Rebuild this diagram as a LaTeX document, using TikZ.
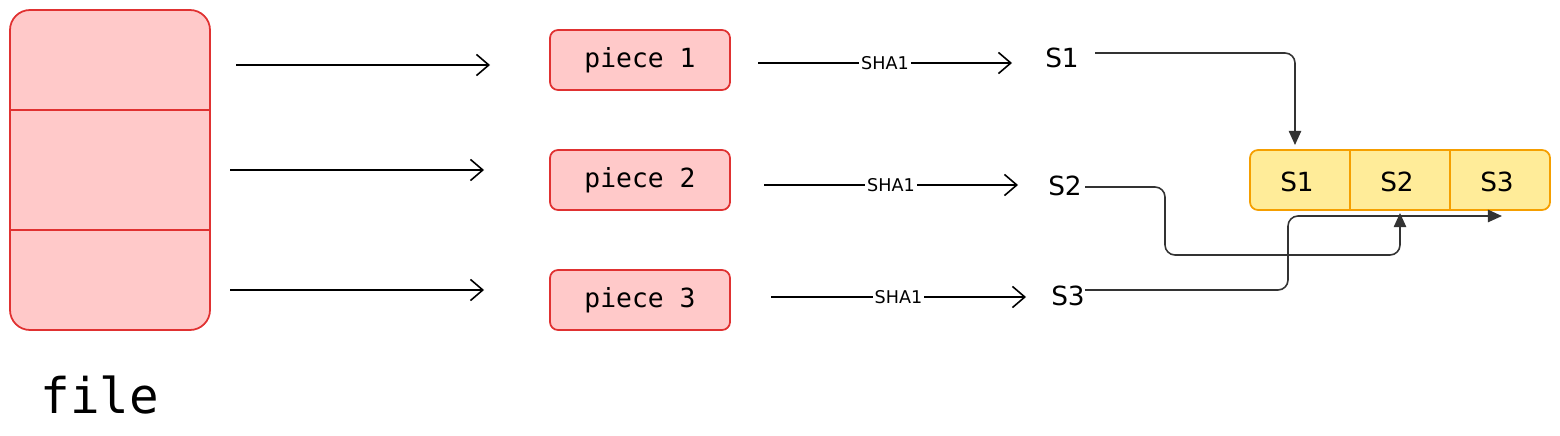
\documentclass[tikz,border=0pt]{standalone}
\usepackage{fontspec}
\setmainfont{DejaVu Sans}
\setmonofont{DejaVu Sans Mono}
\usetikzlibrary{arrows.meta}
\definecolor{pinkf}{HTML}{FFC9C9}
\definecolor{redd}{HTML}{E03131}
\definecolor{yelf}{HTML}{FFEC99}
\definecolor{orad}{HTML}{F59F00}
\definecolor{dk}{HTML}{333333}
\begin{document}
\begin{tikzpicture}[x=0.02cm,y=-0.02cm,
  piecebox/.style={draw=redd,fill=pinkf,line width=1pt,rounded corners=8*0.02cm,minimum width=180*0.02cm,minimum height=60*0.02cm,font=\ttfamily\fontsize{15}{15}\selectfont},
  flow/.style={line width=0.9pt,-{Straight Barb[length=7pt,width=12pt,line width=0.9pt]}},
  conn/.style={draw=dk,line width=0.9pt,rounded corners=10*0.02cm,-{Triangle[length=8pt,width=7pt]}},
  sha/.style={fill=white,inner sep=1pt,font=\fontsize{10}{10}\selectfont},
  slab/.style={font=\fontsize{15}{15}\selectfont}]
\useasboundingbox (0,0) rectangle (1560,436);
% file
\draw[draw=redd,fill=pinkf,line width=1pt,rounded corners=20*0.02cm] (10,10) rectangle (210,330);
\draw[redd,line width=0.8pt] (10,110) -- (210,110) (10,230) -- (210,230);
\node[font=\ttfamily\fontsize{28}{28}\selectfont] (file) at (100,395) {file};
% pieces
\node[piecebox] (p1) at (640,60) {piece 1};
\node[piecebox] (p2) at (640,180) {piece 2};
\node[piecebox] (p3) at (640,300) {piece 3};
\coordinate (a1s) at (236,65); \coordinate (a1e) at (490,65);
\coordinate (a2s) at (230,170); \coordinate (a2e) at (484,170);
\coordinate (a3s) at (230,290); \coordinate (a3e) at (484,290);
\draw[flow] (a1s) -- (a1e);
\draw[flow] (a2s) -- (a2e);
\draw[flow] (a3s) -- (a3e);
% S labels
\node[slab] (s1) at (1062,58) {S1};
\node[slab] (s2) at (1065,186) {S2};
\node[slab] (s3) at (1068,296) {S3};
\coordinate (h1s) at (758,63); \coordinate (h1e) at (1012,63);
\coordinate (h2s) at (764,185); \coordinate (h2e) at (1018,185);
\coordinate (h3s) at (771,297); \coordinate (h3e) at (1026,297);
\draw[flow] (h1s) -- node[sha]{SHA1} (h1e);
\draw[flow] (h2s) -- node[sha]{SHA1} (h2e);
\draw[flow] (h3s) -- node[sha]{SHA1} (h3e);
% yellow array
\draw[draw=orad,fill=yelf,line width=1pt,rounded corners=8*0.02cm] (1250,150) rectangle (1550,210);
\draw[orad,line width=0.8pt] (1350,150) -- (1350,210) (1450,150) -- (1450,210);
\node[slab] (y1) at (1297,182) {S1};
\node[slab] (y2) at (1397,182) {S2};
\node[slab] (y3) at (1497,182) {S3};
% connectors
\draw[conn] (1095,53) -- (1295,53) -- (1295,145);
\draw[conn] (1085,187) -- (1165,187) -- (1165,255) -- (1400,255) -- (1400,213);
\draw[conn] (1085,290) -- (1288,290) -- (1288,216) -- (1502,216);
\end{tikzpicture}
\end{document}
